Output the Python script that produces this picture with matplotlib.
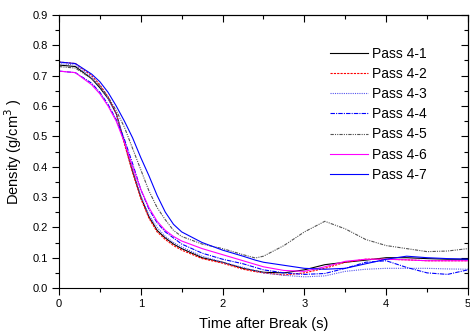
import matplotlib
matplotlib.use('Agg')
import matplotlib.pyplot as plt
import numpy as np
from matplotlib.ticker import MultipleLocator, FormatStrFormatter

plt.rcParams['font.family'] = ['Liberation Sans', 'DejaVu Sans']

# shared time axis (s)
t = [0.0, 0.2, 0.4, 0.5, 0.6, 0.7, 0.8, 0.9, 1.0, 1.1, 1.2, 1.3, 1.4, 1.5,
     1.75, 2.0, 2.25, 2.4, 2.5, 2.75, 3.0, 3.25, 3.5, 3.75, 4.0, 4.25, 4.5, 4.75, 5.0]

pass_4_1 = [0.735, 0.73, 0.69, 0.66, 0.625, 0.575, 0.48, 0.385, 0.30, 0.235, 0.19, 0.165, 0.145, 0.13,
            0.10, 0.085, 0.065, 0.057, 0.052, 0.05, 0.06, 0.077, 0.085, 0.092, 0.10, 0.10, 0.097, 0.095, 0.095]
pass_4_2 = [0.745, 0.74, 0.70, 0.67, 0.63, 0.575, 0.475, 0.38, 0.295, 0.23, 0.185, 0.16, 0.14, 0.125,
            0.097, 0.082, 0.062, 0.054, 0.05, 0.043, 0.05, 0.065, 0.085, 0.095, 0.095, 0.093, 0.09, 0.09, 0.09]
pass_4_3 = [0.74, 0.735, 0.695, 0.665, 0.625, 0.575, 0.485, 0.39, 0.305, 0.24, 0.20, 0.17, 0.15, 0.135,
            0.105, 0.085, 0.068, 0.057, 0.05, 0.042, 0.037, 0.04, 0.055, 0.062, 0.065, 0.065, 0.065, 0.063, 0.062]
pass_4_4 = [0.715, 0.71, 0.675, 0.645, 0.605, 0.555, 0.49, 0.41, 0.325, 0.26, 0.215, 0.185, 0.165, 0.145,
            0.115, 0.095, 0.08, 0.068, 0.06, 0.05, 0.045, 0.048, 0.065, 0.085, 0.09, 0.068, 0.05, 0.045, 0.06]
pass_4_5 = [0.73, 0.725, 0.69, 0.665, 0.63, 0.585, 0.53, 0.46, 0.39, 0.32, 0.265, 0.225, 0.19, 0.17,
            0.145, 0.13, 0.11, 0.099, 0.105, 0.14, 0.185, 0.22, 0.195, 0.16, 0.14, 0.13, 0.12, 0.122, 0.13]
pass_4_6 = [0.715, 0.71, 0.67, 0.64, 0.60, 0.55, 0.48, 0.40, 0.325, 0.265, 0.22, 0.19, 0.17, 0.155,
            0.13, 0.11, 0.09, 0.078, 0.07, 0.058, 0.055, 0.07, 0.088, 0.095, 0.095, 0.093, 0.09, 0.09, 0.09]
pass_4_7 = [0.745, 0.74, 0.705, 0.68, 0.645, 0.60, 0.55, 0.495, 0.43, 0.37, 0.305, 0.25, 0.21, 0.185,
            0.15, 0.125, 0.105, 0.092, 0.085, 0.075, 0.065, 0.062, 0.065, 0.08, 0.095, 0.105, 0.10, 0.097, 0.095]

labels = ['Pass 4-1', 'Pass 4-2', 'Pass 4-3', 'Pass 4-4', 'Pass 4-5', 'Pass 4-6', 'Pass 4-7']
series = [pass_4_1, pass_4_2, pass_4_3, pass_4_4, pass_4_5, pass_4_6, pass_4_7]
colors = ['black', 'red', '#5555ee', 'blue', '#555555', 'magenta', 'blue']
styles = ['-', (0, (2, 1)), (0, (1, 1)), (0, (4, 1, 1, 1)), (0, (3, 1, 1, 1, 1, 1)), '-', '-']

fig = plt.figure(figsize=(4.7, 3.33), dpi=100)
ax = fig.add_axes([0.1255, 0.135, 0.8702, 0.82])

for y, lab, c, ls in zip(series, labels, colors, styles):
    ax.plot(t, y, color=c, linestyle=ls, linewidth=0.8, label=lab)

ax.set_xlim(0, 5)
ax.set_ylim(0, 0.9)
ax.xaxis.set_major_locator(MultipleLocator(1))
ax.xaxis.set_minor_locator(MultipleLocator(0.5))
ax.yaxis.set_major_locator(MultipleLocator(0.1))
ax.yaxis.set_minor_locator(MultipleLocator(0.05))
ax.yaxis.set_major_formatter(FormatStrFormatter('%.1f'))
ax.tick_params(which='both', direction='out', labelsize=8, pad=3)
ax.tick_params(which='major', length=5, width=0.8)
ax.tick_params(which='minor', length=3, width=0.8)

# top / right ticks point inwards, no labels
top = ax.secondary_xaxis('top')
top.xaxis.set_major_locator(MultipleLocator(1))
top.xaxis.set_minor_locator(MultipleLocator(0.5))
top.tick_params(which='both', direction='in', labeltop=False, width=0.8)
top.tick_params(which='major', length=5)
top.tick_params(which='minor', length=3)
right = ax.secondary_yaxis('right')
right.yaxis.set_major_locator(MultipleLocator(0.1))
right.yaxis.set_minor_locator(MultipleLocator(0.05))
right.tick_params(which='both', direction='in', labelright=False, width=0.8)
right.tick_params(which='major', length=5)
right.tick_params(which='minor', length=3)

ax.set_xlabel('Time after Break (s)', fontsize=10.5, labelpad=6)
ax.set_ylabel('Density (g/cm$^3$ )', fontsize=10.5, labelpad=6)

ax.legend(loc='upper left', bbox_to_anchor=(330 / 470, 1 - 47 / 333), bbox_transform=fig.transFigure,
          frameon=False, fontsize=10, handlelength=2.75, handletextpad=0.3, labelspacing=0.44,
          borderaxespad=0, borderpad=0)

fig.savefig('out.png', dpi=100)
